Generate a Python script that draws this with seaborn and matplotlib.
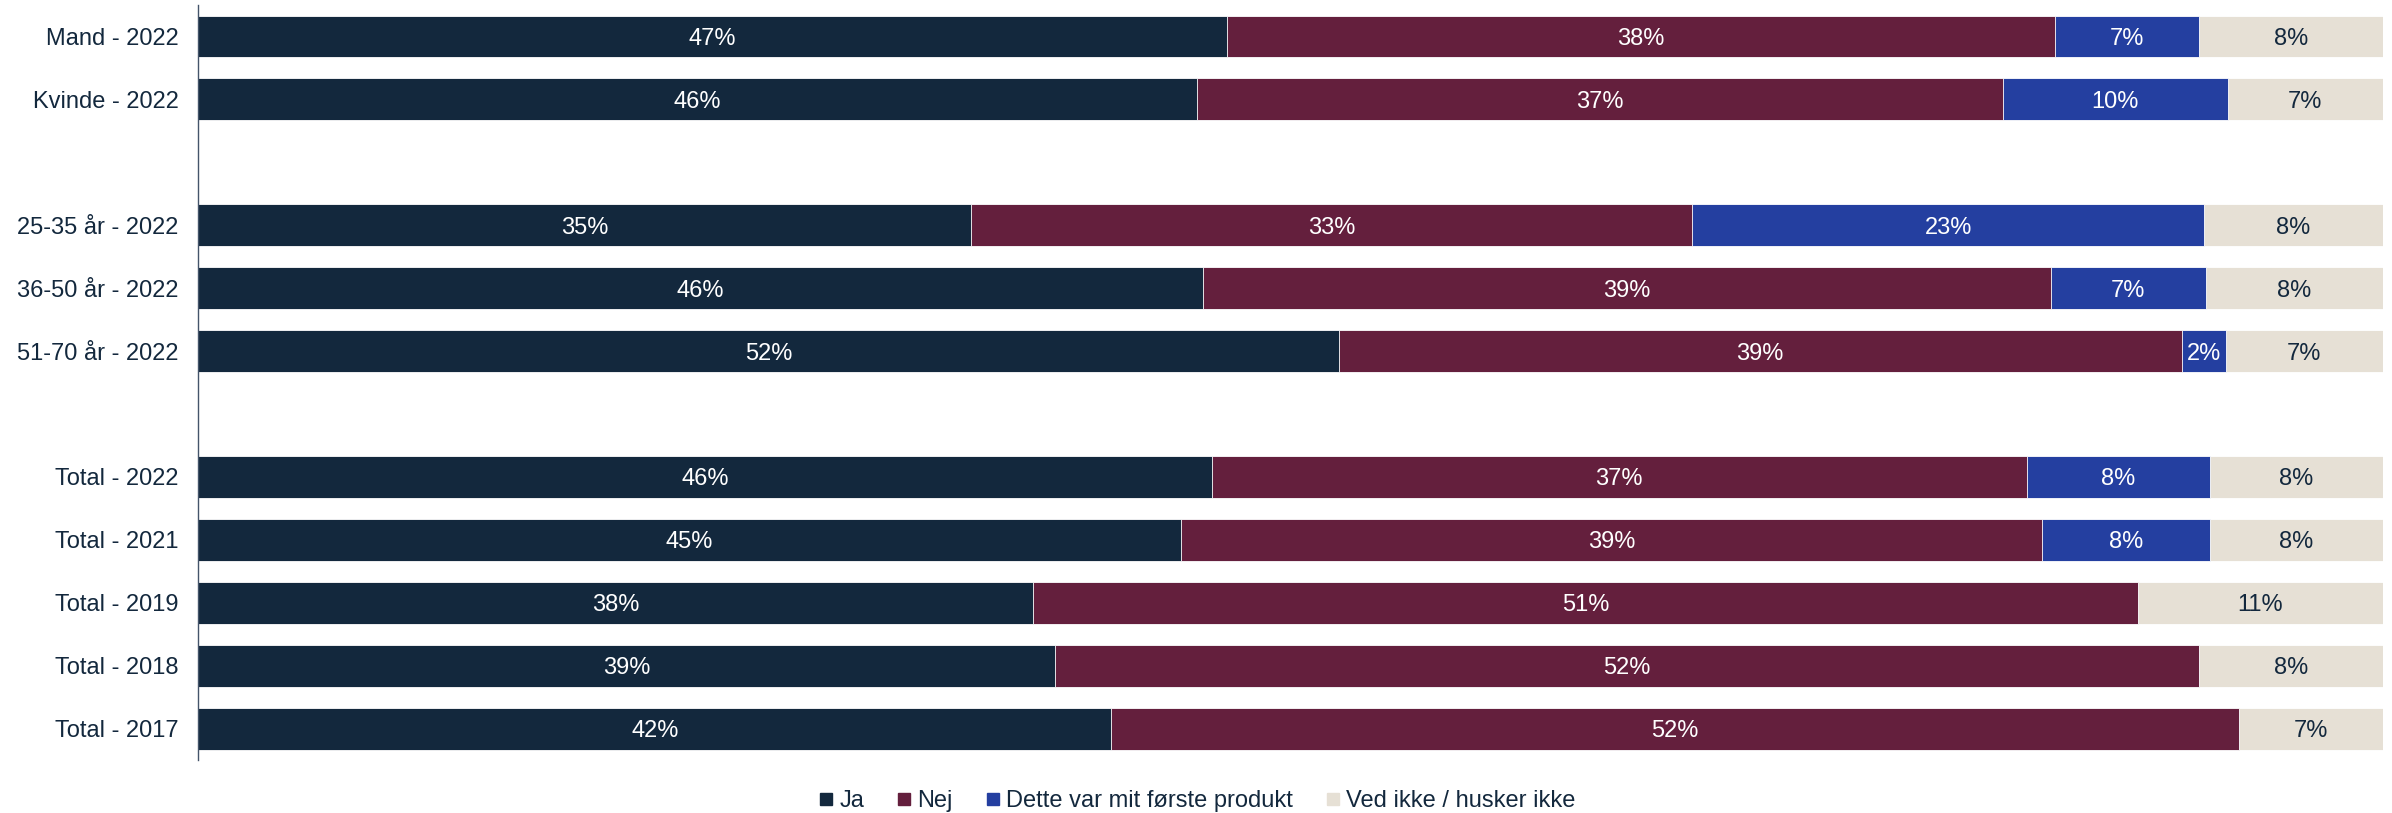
import matplotlib
matplotlib.use("Agg")
import matplotlib.pyplot as plt
from matplotlib.lines import Line2D
import pandas as pd
import seaborn as sns

# Survey rows (top to bottom) and share of answers per category, in percent
rows = ["Mand - 2022", "Kvinde - 2022",
        "25-35 år - 2022", "36-50 år - 2022", "51-70 år - 2022",
        "Total - 2022", "Total - 2021", "Total - 2019", "Total - 2018", "Total - 2017"]
ja = [47.1, 45.7, 35.4, 46.0, 52.2, 46.4, 45.0, 38.2, 39.2, 41.8]
nej = [37.9, 36.9, 33.0, 38.8, 38.6, 37.3, 39.4, 50.6, 52.4, 51.6]
dette = [6.6, 10.3, 23.4, 7.1, 2.0, 8.4, 7.7, 0.0, 0.0, 0.0]
ved = [8.4, 7.1, 8.2, 8.1, 7.2, 7.9, 7.9, 11.2, 8.4, 6.6]

series_names = ["Ja", "Nej", "Dette var mit første produkt", "Ved ikke / husker ikke"]
series_values = [ja, nej, dette, ved]
series_colors = ["#13283D", "#641F3D", "#243FA0", "#E6E0D5"]
label_colors = ["white", "white", "white", "#13283D"]

# Row order on the axis, with empty spacer rows between the groups
order = rows[:2] + [" "] + rows[2:5] + ["  "] + rows[5:]

sns.set_theme(style="white")
plt.rcParams["font.family"] = ["Liberation Sans", "DejaVu Sans"]
text_color = "#13283D"
fs = 17

df = pd.DataFrame({"kategori": rows})
cum = [0.0] * len(rows)
lefts = []
for vals in series_values:
    lefts.append(list(cum))
    cum = [c + v for c, v in zip(cum, vals)]
    df[f"cum_{len(lefts)}"] = cum

fig, ax = plt.subplots(figsize=(23.92, 8.13), dpi=100)
fig.subplots_adjust(left=0.0828, right=0.9962, top=0.9938, bottom=0.0652)

# Stacked bars: draw cumulative totals from the outermost segment inwards
for i in range(len(series_values) - 1, -1, -1):
    sns.barplot(data=df, x=f"cum_{i + 1}", y="kategori", order=order,
                color=series_colors[i], saturation=1, width=0.667,
                orient="h", errorbar=None, ax=ax,
                edgecolor="white", linewidth=0.6)

# Percentage labels centred in each segment
for i, vals in enumerate(series_values):
    for r, row in enumerate(rows):
        v = vals[r]
        if v <= 0:
            continue
        ypos = order.index(row)
        ax.text(lefts[i][r] + v / 2, ypos, f"{v:.0f}%", ha="center",
                va="center_baseline", fontsize=fs, color=label_colors[i])

ax.set_xlim(0, 100)
ax.set_ylim(len(order) - 0.5, -0.5)
ax.set_xlabel("")
ax.set_ylabel("")
ax.set_xticks([])
ax.tick_params(axis="y", length=0, pad=14, labelsize=fs, labelcolor=text_color)
for label in ax.get_yticklabels():
    label.set_verticalalignment("center_baseline")
for side in ["top", "right", "bottom"]:
    ax.spines[side].set_visible(False)
ax.spines["left"].set_color("#44546A")
ax.spines["left"].set_linewidth(1.0)

handles = [Line2D([], [], marker="s", linestyle="", markersize=8.5,
                  markerfacecolor=c, markeredgecolor=c) for c in series_colors]
fig.legend(handles, series_names, loc="center", bbox_to_anchor=(0.5, 0.015),
           ncol=4, frameon=False, fontsize=fs, handletextpad=0.15,
           columnspacing=1.3, handlelength=0.8, labelcolor=text_color)

fig.savefig("out.png", dpi=100)
